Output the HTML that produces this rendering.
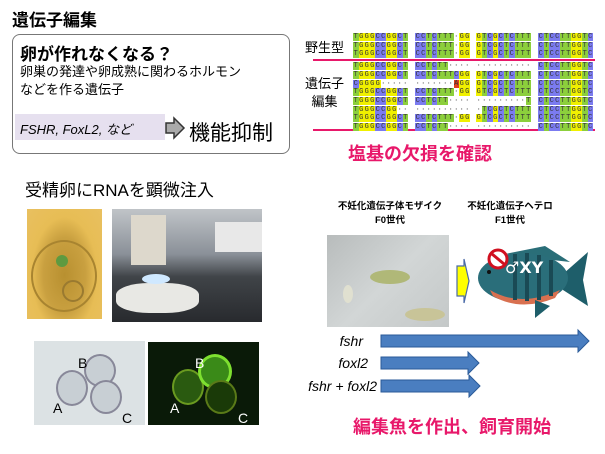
<!DOCTYPE html>
<html><head><meta charset="utf-8">
<style>
body{margin:0;width:605px;height:454px;background:#fff;position:relative;overflow:hidden;font-family:"Liberation Sans","Noto Sans CJK JP",sans-serif;}
.a{position:absolute;white-space:nowrap;}
.seq{position:absolute;font-family:"Liberation Mono",monospace;font-size:7px;line-height:8.7px;color:#333;}
.seq span{display:inline-block;width:5.5px;height:8px;text-align:center;vertical-align:top;}
</style></head><body>
<div class="a" style="left:12px;top:6px;font-size:17px;font-weight:bold;">遺伝子編集</div>
<div class="a" style="left:12px;top:34px;width:276px;height:118px;border:1.5px solid #777;border-radius:8px;"></div>
<div class="a" style="left:20px;top:40px;font-size:17px;font-weight:bold;">卵が作れなくなる？</div>
<div class="a" style="left:20px;top:63px;font-size:13px;line-height:18px;">卵巣の発達や卵成熟に関わるホルモン<br>などを作る遺伝子</div>
<div class="a" style="left:15px;top:114px;width:150px;height:26px;background:#e6e0ef;"></div>
<div class="a" style="left:20px;top:119px;font-size:13px;font-style:italic;">FSHR, FoxL2, など</div>
<svg class="a" style="left:164px;top:116px" width="22" height="24"><polygon points="2,7 10,7 10,2 20,12 10,22 10,17 2,17" fill="#aaa" stroke="#333" stroke-width="1.5"/></svg>
<div class="a" style="left:189px;top:117px;font-size:21px;">機能抑制</div>
<div class="a" style="left:25px;top:176px;font-size:17px;">受精卵にRNAを顕微注入</div>

<div class="a" style="left:27px;top:209px;width:75px;height:110px;background:radial-gradient(ellipse at 50% 60%,#b89030 0%,#c9a040 40%,#e7bd55 62%,#e9c060 100%);"></div>
<div class="a" style="left:31px;top:240px;width:66px;height:72px;border-radius:50%;border:2px solid #a88430;box-sizing:border-box;"></div>
<div class="a" style="left:62px;top:280px;width:22px;height:22px;border-radius:50%;border:2px solid #9a7a30;box-sizing:border-box;"></div>
<div class="a" style="left:56px;top:255px;width:12px;height:12px;border-radius:50%;background:#5e9a40;"></div>
<div class="a" style="left:112px;top:209px;width:150px;height:113px;background:linear-gradient(180deg,#c0c4c8 0%,#8a9098 40%,#404448 60%,#282a2e 100%);"></div>
<div class="a" style="left:116px;top:283px;width:83px;height:30px;border-radius:40%;background:#e8e8e4;"></div>
<div class="a" style="left:131px;top:215px;width:35px;height:50px;background:#ddd8cc;"></div>
<div class="a" style="left:142px;top:274px;width:28px;height:10px;border-radius:50%;background:#cfe8ff;"></div>
<div class="a" style="left:215px;top:222px;width:47px;height:30px;background:#e8e8e8;"></div>

<div class="a" style="left:34px;top:341px;width:111px;height:84px;background:#dce2e4;"></div>
<div class="a" style="left:56px;top:370px;width:28px;height:32px;border-radius:50%;border:2px solid #889;background:#c8cfd4;"></div>
<div class="a" style="left:84px;top:354px;width:28px;height:29px;border-radius:50%;border:2px solid #889;background:#c8cfd4;"></div>
<div class="a" style="left:90px;top:380px;width:28px;height:30px;border-radius:50%;border:2px solid #889;background:#c8cfd4;"></div>
<div class="a" style="left:53px;top:400px;font-size:14px;">A</div>
<div class="a" style="left:78px;top:355px;font-size:14px;">B</div>
<div class="a" style="left:122px;top:410px;font-size:14px;">C</div>
<div class="a" style="left:148px;top:342px;width:111px;height:83px;background:#0a1a08;"></div>
<div class="a" style="left:172px;top:369px;width:28px;height:32px;border-radius:50%;border:2px solid #6a9a20;background:#2a5a10;"></div>
<div class="a" style="left:198px;top:354px;width:28px;height:29px;border-radius:50%;border:3px solid #7ee030;background:#3a8a18;"></div>
<div class="a" style="left:205px;top:380px;width:28px;height:30px;border-radius:50%;border:2px solid #5a7a18;background:#1a3a08;"></div>
<div class="a" style="left:170px;top:400px;font-size:14px;color:#fff;">A</div>
<div class="a" style="left:195px;top:355px;font-size:14px;color:#fff;">B</div>
<div class="a" style="left:238px;top:410px;font-size:14px;color:#fff;">C</div>

<div class="a" style="left:305px;top:37px;font-size:13px;">野生型</div>
<div class="a" style="left:305px;top:75px;font-size:13px;line-height:18px;text-align:center;">遺伝子<br>編集</div>
<div class="a" style="left:313px;top:59px;width:282px;height:2px;background:#e8186a;"></div>
<div class="a" style="left:313px;top:129px;width:282px;height:2px;background:#e8186a;"></div>
<div id="seq"></div>
<div class="a" style="left:348px;top:140px;font-size:18px;font-weight:bold;color:#e8186a;">塩基の欠損を確認</div>

<div class="a" style="left:320px;top:200px;width:140px;text-align:center;font-size:9.5px;font-weight:bold;line-height:14px;">不妊化遺伝子体モザイク<br>F0世代</div>
<div class="a" style="left:460px;top:200px;width:100px;text-align:center;font-size:9.5px;font-weight:bold;line-height:14px;">不妊化遺伝子ヘテロ<br>F1世代</div>
<div class="a" style="left:327px;top:235px;width:122px;height:92px;background:linear-gradient(135deg,#b8bcbc,#d2d6d6 50%,#c4c8c8);"></div>
<div class="a" style="left:370px;top:270px;width:40px;height:14px;border-radius:50%;background:#b0b878;"></div>
<div class="a" style="left:405px;top:308px;width:40px;height:13px;border-radius:50%;background:#c8c498;"></div>
<div class="a" style="left:343px;top:285px;width:10px;height:18px;border-radius:50%;background:#e0e0d0;"></div>
<svg class="a" style="left:455px;top:258px" width="16" height="46"><polygon points="2,8 9,8 9,1 14,23 9,45 9,38 2,38" fill="#ffff00" stroke="#4a6aa8" stroke-width="1.2"/></svg>
<svg class="a" style="left:475px;top:240px" width="118" height="82">
<polygon points="88,34 113,12 108,40 113,66 88,50" fill="#1e5e6a"/>
<polygon points="30,14 70,6 95,22 60,18" fill="#2a6e78"/>
<ellipse cx="48" cy="38" rx="45" ry="25" fill="#2a6e7a"/>
<path d="M15,50 Q45,68 85,50 L80,58 Q45,72 18,56Z" fill="#d87050"/>
<g stroke="#1a4a55" stroke-width="4"><line x1="40" y1="14" x2="40" y2="60"/><line x1="52" y1="13" x2="52" y2="61"/><line x1="64" y1="15" x2="64" y2="60"/><line x1="76" y1="20" x2="76" y2="56"/></g>
<circle cx="14" cy="32" r="2" fill="#111"/>
<polygon points="60,60 75,66 60,78" fill="#1e5e6a"/>
<circle cx="23" cy="19" r="9" fill="#fff" stroke="#d01020" stroke-width="3"/><line x1="17" y1="14" x2="29" y2="24" stroke="#d01020" stroke-width="3"/>
<text x="30" y="33" font-size="16" font-weight="bold" fill="#fff" font-family="DejaVu Sans,sans-serif">♂XY</text>
</svg>

<div class="a" style="left:320px;top:333px;width:43px;text-align:right;font-size:14px;font-style:italic;">fshr</div>
<div class="a" style="left:320px;top:355px;width:48px;text-align:right;font-size:14px;font-style:italic;">foxl2</div>
<div class="a" style="left:300px;top:378px;width:77px;text-align:right;font-size:14px;font-style:italic;">fshr + foxl2</div>
<svg class="a" style="left:0;top:0" width="605" height="454">
<g fill="#4a7ec0" stroke="#2a5a98" stroke-width="1">
<polygon points="381,335 578,335 578,330 589,341 578,352 578,347 381,347"/>
<polygon points="381,357 468,357 468,352 479,363 468,374 468,369 381,369"/>
<polygon points="381,380 469,380 469,375 480,386 469,397 469,392 381,392"/>
</g></svg>
<div class="a" style="left:353px;top:413px;font-size:18px;font-weight:bold;color:#e8186a;">編集魚を作出、飼育開始</div>
<script>
var rows=["TGGGCCGGCT CCTCTTT-GG GTCGCTCTTT CTCCTTGGTC","TGGGCCGGCT CCTCTTT-GG GTCGCTCTTT CTCCTTGGTC","TGGGCCGGCT CCTCTTT-GG GTCGCTCTTT CTCCTTGGTC",
"TGGGCCGGCT CCTCTT---- ---------- CTCCTTGGTC","TGGGCCGGCT CCTCTTTCGG GTCGCTCTTT CTCCTTGGTC","CGGGG----- -------AGG GTCGCTCTTT CTCCTTGGTC",
"TGGGCCGGCT CCTCTTT-GG GTCGCTCTTT CTCCTTGGTC","TGGGCCGGCT CCTCTT---- ---------T CTCCTTGGTC","TGGGCCGG-- ---------- -TCGCTCTTT CTCCTTGGTC",
"TGGGCCGGCT CCTCTTT-GG GTCGCTCTTT CTCCTTGGTC","TGGGCCGGCT CCTCTT---- ---------- CTCCTTGGTC"];
var col={T:"#8ccf3c",G:"#f0f000",C:"#7b7bf0",A:"#e04020","-":"transparent"};
var xs=[353,415,476,538],h="";
rows.forEach(function(r,i){var y=33+i*8.7+(i>=3?3:0);r.split(" ").forEach(function(b,j){h+='<div class="seq" style="left:'+xs[j]+'px;top:'+y+'px">';for(var k=0;k<b.length;k++){var c=b[k];h+='<span style="background:'+col[c]+'">'+(c=="-"?"·":c)+'</span>';}h+='</div>';});});
document.getElementById("seq").innerHTML=h;
</script>
</body></html>
